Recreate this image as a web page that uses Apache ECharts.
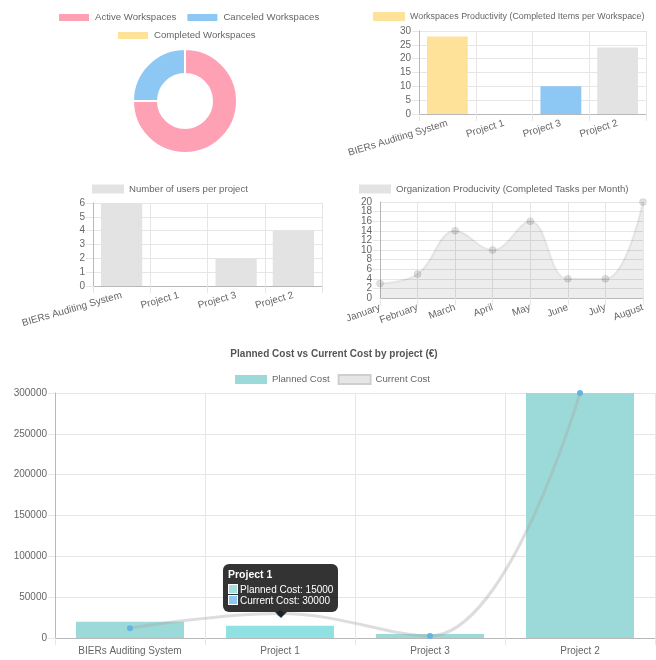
<!DOCTYPE html>
<html><head><meta charset="utf-8">
<script src="https://cdn.jsdelivr.net/npm/echarts@6/dist/echarts.min.js"></script>
<style>html,body{margin:0;padding:0;background:#fff}#c{width:656px;height:660px}</style>
</head><body><div id="c"></div>
<script>
const workspaceLabels = ['Active Workspaces', 'Canceled Workspaces', 'Completed Workspaces'];
const workspaceCounts = [3, 1, 0];
const projects = ['BIERs Auditing System', 'Project 1', 'Project 3', 'Project 2'];
const productivityTitle = 'Workspaces Productivity (Completed Items per Workspace)';
const productivityValues = [28, 0, 10, 24];
const usersTitle = 'Number of users per project';
const usersValues = [6, 0, 2, 4];
const months = ['January', 'February', 'March', 'April', 'May', 'June', 'July', 'August'];
const orgTitle = 'Organization Producivity (Completed Tasks per Month)';
const orgValues = [3, 5, 14, 10, 16, 4, 4, 20];
const costTitle = 'Planned Cost vs Current Cost by project (€)';
const plannedName = 'Planned Cost';
const currentName = 'Current Cost';
const plannedCost = [20000, 15000, 5000, 300000];
const currentCost = [12000, 30000, 2500, 300000];

const FONT = '"Liberation Sans", Arial, Helvetica, sans-serif';
const PINK = '#ffa1b5', BLUE = '#8cc8f3', YELLOW = '#ffe29a', GRAY = '#e3e3e3', TEAL = '#9bdad8';
const GRID_C = '#e6e6e6', AXIS_C = '#b8b8b8', TXT = '#666';

const chart = echarts.init(document.getElementById('c'), null, {renderer: 'canvas'});

function catAxis(gi, data, rotate, extra) {
  return Object.assign({
    type: 'category', gridIndex: gi, data: data, boundaryGap: true,
    axisLine: {show: true, lineStyle: {color: AXIS_C}},
    axisTick: {show: true, length: 7, lineStyle: {color: GRID_C}},
    splitLine: {show: true, lineStyle: {color: GRID_C}},
    axisLabel: {color: TXT, fontSize: 10, fontFamily: FONT, rotate: rotate, interval: 0, margin: 9, hideOverlap: false}
  }, extra || {});
}
function valAxis(gi, max, interval) {
  return {
    type: 'value', gridIndex: gi, min: 0, max: max, interval: interval, position: 'left',
    axisLine: {show: true, lineStyle: {color: AXIS_C}},
    axisTick: {show: true, length: 7, lineStyle: {color: GRID_C}},
    splitLine: {show: true, lineStyle: {color: GRID_C}},
    axisLabel: {color: TXT, fontSize: 10, fontFamily: FONT, margin: 8, showMinLabel: true, showMaxLabel: true,
      hideOverlap: false, formatter: v => String(v)}
  };
}
// Line chart y axis: dense labels. Inner labels on one axis, end labels on a twin axis
const orgAxis = valAxis(2, 20, 2);
orgAxis.axisLabel = Object.assign({}, orgAxis.axisLabel, {showMinLabel: false, showMaxLabel: false});
const orgAxisEnds = {
  type: 'value', gridIndex: 2, min: 0, max: 20, interval: 2, position: 'left', offset: 0,
  axisLine: {show: false}, axisTick: {show: false}, splitLine: {show: false},
  axisLabel: {color: TXT, fontSize: 10, fontFamily: FONT, margin: 8, showMinLabel: true, showMaxLabel: true,
    formatter: v => (v === 0 || v === 20) ? String(v) : ''}
};

const legendBase = {icon: 'rect', itemWidth: 32, itemHeight: 9, itemGap: 9, padding: 0,
  textStyle: {color: TXT, fontSize: 9.6, fontFamily: FONT}, selectedMode: false};

const pieColors = [PINK, BLUE, YELLOW];
const prodColors = [YELLOW, PINK, BLUE, GRAY];

const option = {
  animation: false,
  textStyle: {fontFamily: FONT},
  title: {text: costTitle, left: 334, top: 349, textAlign: 'center', padding: 0,
    textStyle: {fontSize: 10, fontWeight: 'bold', color: '#555', fontFamily: FONT}},
  legend: [
    Object.assign({}, legendBase, {left: 57, top: 12, data: [workspaceLabels[0], workspaceLabels[1]]}),
    Object.assign({}, legendBase, {left: 116, top: 30, data: [workspaceLabels[2]]}),
    Object.assign({}, legendBase, {left: 373, top: 12, data: [productivityTitle],
      textStyle: {color: TXT, fontSize: 8.9, fontFamily: FONT}}),
    Object.assign({}, legendBase, {left: 92, top: 184, data: [{name: usersTitle, itemStyle: {color: GRAY}}]}),
    Object.assign({}, legendBase, {left: 359, top: 184, data: [{name: orgTitle, icon: 'rect', itemStyle: {color: GRAY, borderWidth: 0}}]}),
    Object.assign({}, legendBase, {left: 235, top: 374, itemGap: 8, data: [
      {name: plannedName},
      {name: currentName, icon: 'rect', itemStyle: {color: '#e6e6e6', borderColor: '#cfcfcf', borderWidth: 2}}
    ]})
  ],
  grid: [
    {left: 419, top: 31, right: 10, bottom: 546},
    {left: 93, top: 203, right: 334, bottom: 374},
    {left: 380, top: 202, right: 13, bottom: 362},
    {left: 55, top: 393, right: 1, bottom: 22}
  ],
  xAxis: [
    catAxis(0, projects, 17),
    catAxis(1, projects, 16),
    catAxis(2, months, 20, {boundaryGap: false}),
    catAxis(3, projects, 0, {axisLabel: {color: TXT, fontSize: 10, fontFamily: FONT, interval: 0, margin: 8}})
  ],
  yAxis: [
    valAxis(0, 30, 5),
    valAxis(1, 6, 1),
    orgAxis,
    valAxis(3, 300000, 50000),
    orgAxisEnds
  ],
  tooltip: {
    trigger: 'item', triggerOn: 'none', alwaysShowContent: true, transitionDuration: 0,
    backgroundColor: 'rgba(0,0,0,0.8)', borderWidth: 0, padding: [5, 5, 5, 5],
    textStyle: {color: '#fff', fontSize: 10, fontFamily: FONT},
    extraCssText: 'border-radius:6px;box-shadow:none;line-height:11.5px;overflow:visible;',
    formatter: function (p) {
      const i = p.dataIndex;
      const sq = c => '<span style="display:inline-block;width:8px;height:8px;background:' + c +
        ';border:1px solid #fff;margin-right:2px;vertical-align:-1px"></span>';
      return '<div style="font-weight:bold;font-size:10.5px;margin-bottom:3px">' + projects[i] + '</div>' +
        '<div>' + sq('#a3e0de') + plannedName + ': ' + plannedCost[i] + '</div>' +
        '<div>' + sq('#8cc8f3') + currentName + ': ' + currentCost[i] + '</div>' +
        '<div style="position:absolute;left:50%;margin-left:-6px;bottom:-6px;width:0;height:0;' +
        'border-left:6px solid transparent;border-right:6px solid transparent;border-top:6px solid rgba(0,0,0,0.8)"></div>';
    },
    position: function (point, p, dom, rect, size) {
      const i = p.dataIndex;
      const a = chart.convertToPixel({gridIndex: 3}, [i, plannedCost[i]]);
      const b = chart.convertToPixel({gridIndex: 3}, [i, currentCost[i]]);
      const y = (a[1] + b[1]) / 2;
      return [a[0] - size.contentSize[0] / 2, y - size.contentSize[1] - 8];
    }
  },
  series: [
    {
      type: 'pie', center: [185, 101], radius: [27, 52], startAngle: 90, clockwise: true,
      label: {show: false}, labelLine: {show: false}, silent: true,
      itemStyle: {borderColor: '#fff', borderWidth: 2},
      data: workspaceLabels.map((n, i) => ({name: n, value: workspaceCounts[i], itemStyle: {color: pieColors[i]}}))
    },
    {
      type: 'bar', name: productivityTitle, xAxisIndex: 0, yAxisIndex: 0, barWidth: '72%', silent: true,
      itemStyle: {color: YELLOW},
      data: productivityValues.map((v, i) => ({value: v, itemStyle: {color: prodColors[i]}}))
    },
    {
      type: 'bar', name: usersTitle, xAxisIndex: 1, yAxisIndex: 1, barWidth: '72%', silent: true,
      itemStyle: {color: GRAY}, data: usersValues
    },
    {
      type: 'line', name: orgTitle, xAxisIndex: 2, yAxisIndex: 2, smooth: 0.4, silent: true,
      symbol: 'circle', symbolSize: 7,
      lineStyle: {color: 'rgba(0,0,0,0.07)', width: 2},
      itemStyle: {color: 'rgba(0,0,0,0.12)', borderColor: 'rgba(0,0,0,0.08)', borderWidth: 1},
      areaStyle: {color: 'rgba(0,0,0,0.1)'},
      data: orgValues
    },
    {
      type: 'bar', name: plannedName, xAxisIndex: 3, yAxisIndex: 3, barWidth: '72%',
      itemStyle: {color: TEAL},
      emphasis: {itemStyle: {color: '#90e1e1'}},
      data: plannedCost
    },
    {
      type: 'line', name: currentName, xAxisIndex: 3, yAxisIndex: 3, smooth: 0.4, z: 5,
      symbol: 'circle', symbolSize: 6,
      lineStyle: {color: 'rgba(170,170,170,0.4)', width: 3},
      itemStyle: {color: '#62b4e2'},
      data: currentCost
    }
  ]
};
chart.setOption(option);
chart.dispatchAction({type: 'highlight', seriesIndex: 4, dataIndex: 1});
chart.dispatchAction({type: 'showTip', seriesIndex: 4, dataIndex: 1});
</script>
</body></html>
